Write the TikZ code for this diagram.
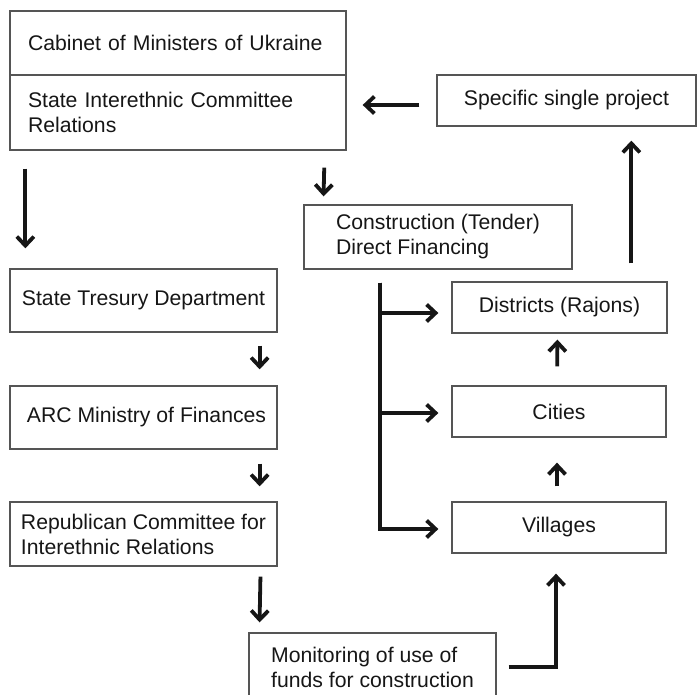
\documentclass[tikz,border=0pt]{standalone}
\usepackage{fontspec}
\setmainfont{Liberation Sans}
\usetikzlibrary{arrows.meta}
\definecolor{boxline}{HTML}{555555}
\definecolor{ink}{HTML}{161616}
\begin{document}
\begin{tikzpicture}[x=1pt, y=-1pt, >={Straight Barb[length=9pt, width=17pt]},
    box/.style={draw=boxline, line width=1.3pt, inner sep=0pt, align=left, text=ink,
      font=\fontsize{21.2}{25}\selectfont},
    flow/.style={->, line width=3.8pt, draw=ink}]
            \useasboundingbox (0,0) rectangle (697,695);
            \node[box, text width=300pt, inner xsep=18pt, minimum height=64pt] (cab) at (178, 43) {Cabinet of Ministers of Ukraine};
            \node[box, text width=300pt, inner xsep=18pt, minimum height=75pt] (sic) at (178, 112.5) {State Interethnic Committee\\Relations};
            \node[box, minimum width=259pt, minimum height=51pt] (spec) at (566.5, 100.5) {Specific single project};
            \node[box, minimum width=268pt, minimum height=64pt] (con) at (438, 237) {Construction (Tender)\\Direct Financing};
            \node[box, minimum width=267pt, minimum height=63pt] (tre) at (143.5, 300.5) {State Tresury Department};
            \node[box, minimum width=267pt, minimum height=63pt] (arc) at (143.5, 417.5) {\hspace*{6pt}ARC Ministry of Finances};
            \node[box, minimum width=267pt, minimum height=64pt] (rep) at (143.5, 534) {Republican Committee for\\Interethnic Relations};
            \node[box, minimum width=215pt, minimum height=51pt] (dis) at (559.5, 307.5) {Districts (Rajons)};
            \node[box, minimum width=214pt, minimum height=51pt] (cit) at (559, 411.5) {Cities};
            \node[box, minimum width=214pt, minimum height=51pt] (vil) at (559, 527.5) {Villages};
            \node[box, minimum width=247pt, minimum height=68pt] (mon) at (372.5, 667) {Monitoring of use of\\funds for construction};
            \draw[flow, shorten <=18pt, shorten >=20pt] ([xshift=16pt]sic.south west) -- ([xshift=16pt]tre.north west);
            \draw[flow, shorten <=17pt, shorten >=8pt] ([xshift=-22pt]sic.south east) -- ([xshift=20pt]con.north west);
            \draw[flow, shorten <=17pt, shorten >=16pt] ([yshift=-4.5pt]spec.west) -- ([yshift=7.5pt]sic.east);
            \draw[flow, shorten <=13pt, shorten >=16pt] ([xshift=-18pt]tre.south east) -- ([xshift=-18pt]arc.north east);
            \draw[flow, shorten <=14pt, shorten >=15pt] ([xshift=-18pt]arc.south east) -- ([xshift=-18pt]rep.north east);
            \draw[flow, shorten <=10pt, shorten >=10pt] ([xshift=-17pt]rep.south east) -- ([xshift=11pt]mon.north west);
            \draw[flow, shorten <=13pt, shorten >=13pt] ([xshift=77pt]con.south west) |- ([yshift=-5.5pt]dis.west);
            \draw[flow, shorten <=13pt, shorten >=13pt] ([xshift=77pt]con.south west) |- ([yshift=-1.5pt]cit.west);
            \draw[flow, shorten <=13pt, shorten >=13pt] ([xshift=77pt]con.south west) |- ([yshift=-1.5pt]vil.west);
            \draw[flow, shorten <=18pt, shorten >=14pt] ([xshift=180pt]dis.north west) -- ([xshift=195pt]spec.south west);
            \draw[flow, shorten <=19pt, shorten >=6pt] ([xshift=-2pt]cit.north) -- ([xshift=-2pt]dis.south);
            \draw[flow, shorten <=15pt, shorten >=25pt] ([xshift=-2pt]vil.north) -- ([xshift=-2pt]cit.south);
            \draw[flow, shorten <=12pt, shorten >=20pt] (mon.east) -| ([xshift=-3pt]vil.south);
        \end{tikzpicture}
\end{document}
